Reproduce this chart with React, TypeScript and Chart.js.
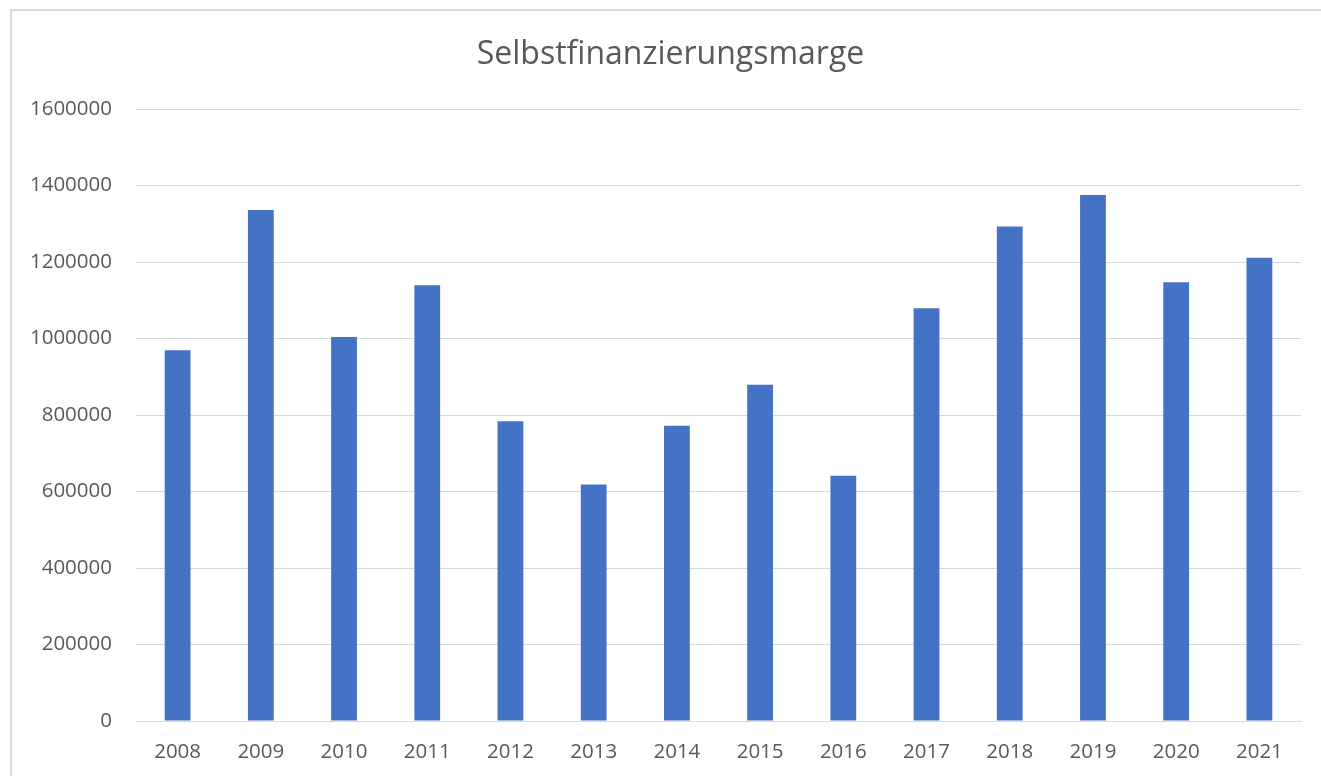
import React, { useEffect, useRef } from "react";
import { Chart, registerables } from "chart.js";

Chart.register(...registerables);

const categories = ["2008", "2009", "2010", "2011", "2012", "2013", "2014", "2015", "2016", "2017", "2018", "2019", "2020", "2021"];
const values = [969000, 1336000, 1004000, 1139000, 783500, 618000, 772000, 879000, 641500, 1079000, 1293000, 1375000, 1147000, 1211000];
const titleText = "Selbstfinanzierungsmarge";
const yMax = 1600000;
const yStep = 200000;

export default function App() {
  const ref = useRef<HTMLCanvasElement | null>(null);
  useEffect(() => {
    if (!ref.current) return;
    const font = "'Open Sans', 'Noto Sans', sans-serif";
    const titlePlugin = {
      id: "centeredTitle",
      afterDraw(chart: any) {
        const ctx = chart.ctx;
        ctx.save();
        ctx.font = `normal 32px ${font}`;
        ctx.fillStyle = "#595959";
        ctx.textAlign = "center";
        ctx.textBaseline = "middle";
        ctx.fillText(titleText, (20 + chart.width) / 2, 55.2);
        ctx.restore();
      },
    };
    const chart = new Chart(ref.current, {
      type: "bar",
      data: {
        labels: categories,
        datasets: [
          {
            data: values,
            backgroundColor: "#4472C4",
            borderWidth: 0,
            categoryPercentage: 1,
            barPercentage: 0.31,
          },
        ],
      },
      options: {
        animation: false,
        responsive: false,
        maintainAspectRatio: false,
        layout: { padding: { left: 0, right: 20, top: 109, bottom: 0 } },
        plugins: {
          legend: { display: false },
          tooltip: { enabled: false },
          title: { display: false },
        },
        scales: {
          x: {
            grid: { display: false, drawTicks: false },
            border: { display: true, color: "#d9d9d9", width: 1 },
            ticks: { color: "#595959", font: { family: font, size: 20.5 }, padding: 19, maxRotation: 0 },
            afterFit: (s: any) => { s.height = 55; },
          },
          y: {
            min: 0,
            max: yMax,
            grid: { color: "#d9d9d9", lineWidth: 1, drawTicks: false },
            border: { display: false },
            ticks: {
              stepSize: yStep,
              color: "#595959",
              font: { family: font, size: 20.5 },
              padding: 24,
              callback: (v: any) => String(v),
            },
            afterFit: (s: any) => { s.width = 136; },
          },
        },
      },
      plugins: [titlePlugin],
    });
    return () => chart.destroy();
  }, []);
  return (
    <div style={{ position: "fixed", left: 0, top: 0, width: 1321, height: 776, overflow: "hidden", background: "#fff" }}>
      <div style={{ position: "absolute", left: 10, top: 9, width: 1330, height: 800, border: "2px solid #d9d9d9", boxSizing: "border-box" }} />
      <canvas ref={ref} width={1321} height={776} style={{ position: "absolute", left: 0, top: 0, width: 1321, height: 776 }} />
    </div>
  );
}
